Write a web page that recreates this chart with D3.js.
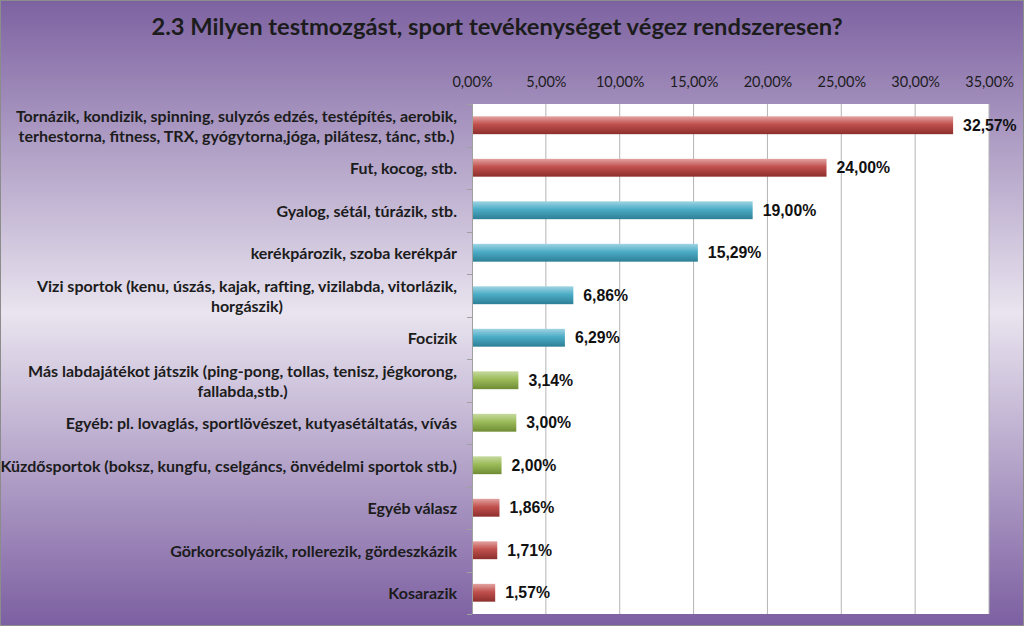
<!DOCTYPE html>
<html>
<head>
<meta charset="utf-8">
<script src="https://cdn.jsdelivr.net/npm/d3@7"></script>
<style>
html,body{margin:0;padding:0;background:#fff;}
svg{display:block;}
</style>
</head>
<body>
<svg id="chart" width="1024" height="626"></svg>
<script>
const title = "2.3 Milyen testmozgást, sport tevékenységet végez rendszeresen?";
const categories = [
  "Tornázik, kondizik, spinning, sulyzós edzés, testépítés, aerobik,\nterhestorna, fitness, TRX, gyógytorna,jóga, pilátesz, tánc, stb.)",
  "Fut, kocog, stb.",
  "Gyalog, sétál, túrázik, stb.",
  "kerékpározik, szoba kerékpár",
  "Vizi sportok (kenu, úszás, kajak, rafting, vizilabda, vitorlázik,\nhorgászik)",
  "Focizik",
  "Más labdajátékot játszik (ping-pong, tollas, tenisz, jégkorong,\nfallabda,stb.)",
  "Egyéb: pl. lovaglás, sportlövészet, kutyasétáltatás, vívás",
  "Küzdősportok (boksz, kungfu, cselgáncs, önvédelmi sportok stb.)",
  "Egyéb válasz",
  "Görkorcsolyázik, rollerezik, gördeszkázik",
  "Kosarazik"
];
const values = [32.57, 24.00, 19.00, 15.29, 6.86, 6.29, 3.14, 3.00, 2.00, 1.86, 1.71, 1.57];
const colorGroups = ["red","red","blue","blue","blue","blue","green","green","green","red","red","red"];
const tickValues = [0, 5, 10, 15, 20, 25, 30, 35];

const palette = {
  red:   {top:"#e3a3a1", mid:"#c0504d", bot:"#8c2f2d"},
  blue:  {top:"#9fd4e3", mid:"#4bacc6", bot:"#2d7f95"},
  green: {top:"#c6da9f", mid:"#9bbb59", bot:"#6f8c35"}
};

const W = 1024, H = 626;
const plot = {left:472, right:989, top:104, bottom:614};
const svg = d3.select("#chart");
const defs = svg.append("defs");

const bg = defs.append("linearGradient").attr("id","bg").attr("x1",0).attr("y1",0).attr("x2",0).attr("y2",1);
bg.append("stop").attr("offset","0%").attr("stop-color","#7d62a1");
bg.append("stop").attr("offset","50%").attr("stop-color","#e9e4ef");
bg.append("stop").attr("offset","100%").attr("stop-color","#7c5fa1");

Object.entries(palette).forEach(([k,c])=>{
  const g = defs.append("linearGradient").attr("id","g-"+k).attr("x1",0).attr("y1",0).attr("x2",0).attr("y2",1);
  g.append("stop").attr("offset","0%").attr("stop-color",c.top);
  g.append("stop").attr("offset","45%").attr("stop-color",c.mid);
  g.append("stop").attr("offset","100%").attr("stop-color",c.bot);
});

svg.append("rect").attr("x",0.5).attr("y",0.5).attr("width",W-1).attr("height",H-1)
  .attr("fill","url(#bg)").attr("stroke","#8c8c8c").attr("stroke-width",1);

svg.append("text").attr("x",497).attr("y",35).attr("text-anchor","middle")
  .attr("font-family","Lato, 'Open Sans', sans-serif").attr("font-weight","bold")
  .attr("font-size",23.7).attr("fill","#1c1c1c").text(title);

const x = d3.scaleLinear().domain([0,35]).range([plot.left, plot.right]);
const y = d3.scaleBand().domain(d3.range(categories.length)).range([plot.top, plot.bottom]).paddingInner(0.58).paddingOuter(0.29);
const yb = d3.scaleBand().domain(d3.range(categories.length)).range([plot.top, plot.bottom]);

svg.append("rect").attr("x",plot.left).attr("y",plot.top).attr("width",plot.right-plot.left).attr("height",plot.bottom-plot.top).attr("fill","#ffffff");

// gridlines
svg.append("g").selectAll("line").data(tickValues.slice(1)).join("line")
  .attr("x1",d=>x(d)).attr("x2",d=>x(d)).attr("y1",plot.top).attr("y2",plot.bottom)
  .attr("stroke","#b4b4b4").attr("stroke-width",1);

// top axis labels
const xAxis = d3.axisTop(x).tickValues(tickValues).tickSize(0).tickPadding(0)
  .tickFormat(d => d3.format(".2f")(d).replace(".", ",") + "%");
const gx = svg.append("g").attr("transform",`translate(0,${plot.top-17})`).call(xAxis);
gx.select(".domain").remove();
gx.selectAll("text").attr("font-family","Lato, 'Open Sans', sans-serif").attr("font-size",14.5).attr("fill","#1c1c1c");

// left axis
svg.append("line").attr("x1",plot.left+0.5).attr("x2",plot.left+0.5).attr("y1",plot.top).attr("y2",plot.bottom).attr("stroke","#a0a0a0");
svg.append("g").selectAll("line").data(d3.range(categories.length+1)).join("line")
  .attr("x1",plot.left-5).attr("x2",plot.left)
  .attr("y1",d=>Math.round(plot.top + d*yb.bandwidth())+0.5).attr("y2",d=>Math.round(plot.top + d*yb.bandwidth())+0.5)
  .attr("stroke","#a0a0a0");

// bars
svg.append("g").selectAll("rect").data(values).join("rect")
  .attr("x",x(0)+1).attr("y",(d,i)=>y(i)).attr("width",d=>x(d)-x(0)-1).attr("height",y.bandwidth())
  .attr("fill",(d,i)=>"url(#g-"+colorGroups[i]+")");

// value labels
svg.append("g").selectAll("text").data(values).join("text")
  .attr("x",d=>x(d)+10).attr("y",(d,i)=>y(i)+y.bandwidth()/2).attr("dy","0.36em")
  .attr("font-family","'Liberation Sans', Arial, sans-serif").attr("font-weight","bold").attr("font-size",15.8)
  .attr("fill","#111").text(d => d3.format(".2f")(d).replace(".", ",") + "%");

// category labels
const labelRight = 457, lineH = 20;
const lg = svg.append("g");
categories.forEach((c,i)=>{
  const lines = c.split("\n");
  const cy = yb(i) + yb.bandwidth()/2 + 1;
  const t = lg.append("text").attr("font-family","Lato, 'Open Sans', sans-serif").attr("font-weight","bold")
    .attr("font-size",16).attr("fill","#1c1c1c").attr("text-anchor","middle");
  const spans = lines.map((l,j)=> t.append("tspan").attr("y", cy + (j-(lines.length-1)/2)*lineH).attr("dy","0.35em").text(l));
  let maxW = 0;
  spans.forEach(s=>{ maxW = Math.max(maxW, s.node().getComputedTextLength()); });
  spans.forEach(s=> s.attr("x", labelRight - maxW/2));
});
</script>
</body>
</html>
